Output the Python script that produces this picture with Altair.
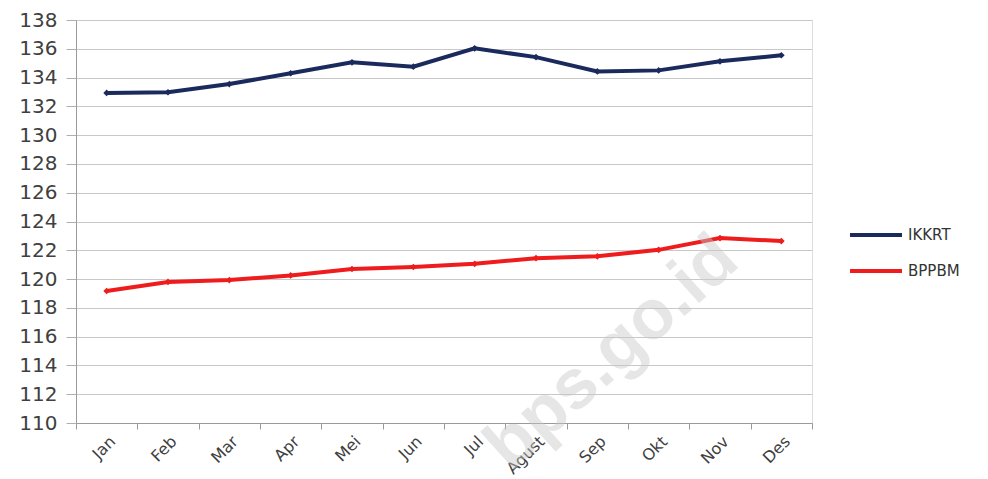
import altair as alt
import pandas as pd

months = ["Jan", "Feb", "Mar", "Apr", "Mei", "Jun", "Jul", "Agust", "Sep", "Okt", "Nov", "Des"]
ikkrt = [132.93, 132.98, 133.55, 134.30, 135.06, 134.76, 136.03, 135.42, 134.43, 134.50, 135.13, 135.55]
bppbm = [119.17, 119.80, 119.93, 120.25, 120.70, 120.84, 121.06, 121.45, 121.58, 122.03, 122.85, 122.64]
series_names = ["IKKRT", "BPPBM"]
series_colors = ["#1b2a5c", "#ee1c1c"]
y_ticks = list(range(110, 139, 2))

rows = []
for m, v in zip(months, ikkrt):
    rows.append({"Bulan": m, "Seri": "IKKRT", "Nilai": v})
for m, v in zip(months, bppbm):
    rows.append({"Bulan": m, "Seri": "BPPBM", "Nilai": v})
df = pd.DataFrame(rows)

FONT = "DejaVu Sans"

x_enc = alt.X("Bulan:N", sort=months, title=None,
              scale=alt.Scale(type="band", paddingInner=0, paddingOuter=0),
              axis=alt.Axis(labelAngle=-45, labelFontSize=16, labelColor="#404040",
                            labelAlign="right", labelBaseline="top", labelPadding=4,
                            tickBand="extent", tickSize=6, tickColor="#9a9a9a",
                            domainColor="#9a9a9a", grid=False, labelFont=FONT,
                            labelOverlap=False))
y_enc = alt.Y("Nilai:Q", title=None,
              scale=alt.Scale(domain=[110, 138], nice=False, zero=False),
              axis=alt.Axis(values=y_ticks, tickCount=15, labelFontSize=20, labelColor="#404040",
                            tickSize=10, tickColor="#b0b0b0", domainColor="#9a9a9a",
                            gridColor="#c8c8c8", labelPadding=9, labelFont=FONT,
                            labelOverlap=False, labelBound=False))
color_scale = alt.Scale(domain=series_names, range=series_colors)
color_enc = alt.Color("Seri:N", sort=series_names, scale=color_scale,
                      legend=alt.Legend(title=None, orient="none", legendX=772, legendY=187,
                                        symbolType="stroke", symbolSize=2700, symbolStrokeWidth=4,
                                        labelFontSize=15, labelColor="#333333", rowPadding=-11,
                                        labelFont=FONT))

base = alt.Chart(df).encode(x=x_enc, y=y_enc, color=color_enc)
lines = base.mark_line(strokeWidth=4)
points = base.mark_point(shape="diamond", filled=True, size=45, opacity=1)

watermark = alt.Chart(pd.DataFrame({"t": ["bps.go.id"]})).mark_text(
    fontSize=70, fontWeight="bold", angle=318, color="#c8c8c8", opacity=0.45,
    font="Liberation Sans").encode(text="t:N", x=alt.value(536), y=alt.value(333))

chart = alt.layer(lines, points, watermark).properties(
    width=736, height=403,
    padding={"left": 10, "top": 2, "right": 5, "bottom": 5}
).configure_view(stroke=None).configure(background="white")

chart.save("out.html", embed_options={"renderer": "svg", "actions": False})
